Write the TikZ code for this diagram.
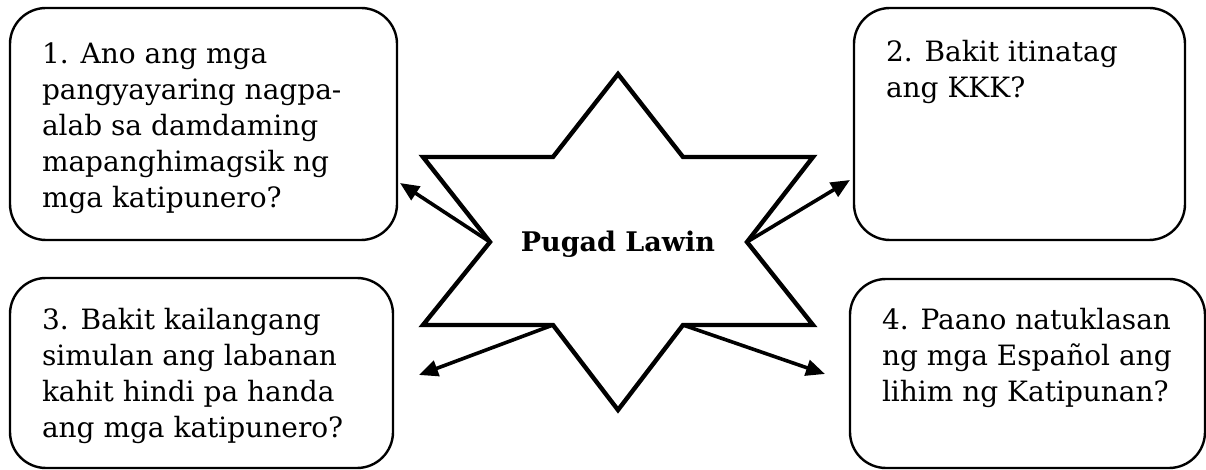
\documentclass[tikz,border=0pt]{standalone}
\usepackage{fontspec}
\setmainfont{DejaVu Serif}
\usetikzlibrary{arrows.meta}
\begin{document}
\begin{tikzpicture}[x=0.5pt,y=-0.5pt,
    qbox/.style={draw, line width=1.2pt, rounded corners=18pt, inner sep=0pt},
    ray/.style={-{Triangle[length=9.5pt,width=8pt]}, line width=1.8pt},
    every node/.style={font=\fontsize{14}{18}\selectfont}]
\useasboundingbox (0,0) rectangle (1206,470);
            \node[qbox, minimum width=193.5pt, minimum height=116pt] (Q1) at (203.5,124){\parbox[c][81.5pt][t]{161.5pt}{\raggedright 1. Ano ang mga\\ pangyayaring nagpa-\\ alab sa damdaming\\ mapanghimagsik ng\\ mga katipunero?}};
            \node[qbox, minimum width=165.5pt, minimum height=116pt] (Q2) at (1019.5,124){\parbox[c][84pt][t]{133.5pt}{\raggedright 2. Bakit itinatag\\ ang KKK?}};
            \node[qbox, minimum width=191.5pt, minimum height=95pt] (Q3) at (201.5,373){\parbox[c][65pt][t]{159.5pt}{\raggedright 3. Bakit kailangang\\ simulan ang labanan\\ kahit hindi pa handa\\ ang mga katipunero?}};
            \node[qbox, minimum width=177.5pt, minimum height=94.5pt] (Q4) at (1027.5,373.5){\parbox[c][65.5pt][t]{145.5pt}{\raggedright 4. Paano natuklasan\\ ng mga Español ang\\ lihim ng Katipunan?}};
            \draw[line width=2.2pt] (618,74) -- (683,157) -- (813,157) -- (747,242) coordinate (SR)
                -- (813,325) -- (683,325) coordinate (SLR) -- (618,410) -- (553,325) coordinate (SLL)
                -- (423,325) -- (490,242) coordinate (SL) -- (423,157) -- (553,157) -- cycle;
            \node[anchor=base, font=\fontsize{13.5}{18}\selectfont\bfseries] (PL) at (618,252){Pugad Lawin};
            \coordinate (T1) at (400,183);
            \coordinate (T2) at (850,180);
            \coordinate (T3) at (419,375);
            \coordinate (T4) at (825,374);
            \draw[ray] (SL) -- (T1);
            \draw[ray] (SR) -- (T2);
            \draw[ray] (SLL) -- (T3);
            \draw[ray] (SLR) -- (T4);
        \end{tikzpicture}
\end{document}
